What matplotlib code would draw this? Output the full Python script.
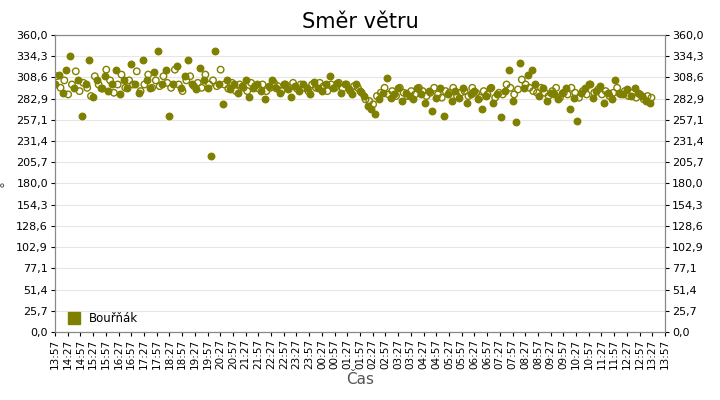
import matplotlib.pyplot as plt
from datetime import datetime, timedelta

# wind direction, readings every 9 minutes from 13:57 to 13:57 next day
filled = [300, 312, 290, 318, 335, 296, 305, 262, 300, 330, 285, 305, 296, 310, 292, 300,
          318, 288, 305, 296, 325, 300, 290, 330, 305, 296, 315, 340, 300, 318, 262, 300,
          322, 296, 310, 330, 300, 295, 320, 305, 296, 213, 340, 300, 276, 305, 295, 300,
          290, 298, 305, 285, 296, 300, 292, 282, 298, 305, 296, 290, 300, 295, 285, 298,
          292, 300, 296, 288, 303, 296, 292, 300, 310, 296, 302, 290, 300, 295, 288, 300,
          292, 286, 274, 270, 264, 282, 290, 308, 284, 288, 296, 280, 290, 286, 282, 296,
          288, 278, 292, 268, 284, 296, 262, 288, 280, 292, 284, 296, 278, 288, 292, 282,
          270, 286, 296, 278, 288, 260, 292, 318, 280, 254, 326, 296, 312, 318, 300, 286,
          296, 280, 290, 288, 282, 290, 296, 270, 284, 256, 290, 296, 300, 284, 292, 298,
          278, 290, 282, 306, 290, 288, 294, 286, 296, 290, 286, 280, 278]
hollow = [310, 296, 305, 288, 300, 316, 292, 302, 296, 286, 310, 300, 295, 318, 305, 290,
          300, 312, 296, 305, 300, 316, 292, 300, 312, 296, 305, 298, 310, 302, 296, 318,
          300, 292, 305, 310, 298, 302, 296, 312, 300, 305, 298, 318, 300, 295, 302, 292,
          300, 296, 292, 302, 298, 295, 300, 292, 296, 302, 298, 292, 300, 296, 302, 295,
          300, 296, 292, 300, 296, 302, 298, 292, 300, 296, 302, 295, 300, 292, 298, 296,
          290, 282, 280, 276, 286, 290, 296, 288, 292, 286, 296, 290, 286, 292, 288, 296,
          292, 286, 290, 296, 288, 284, 292, 290, 296, 286, 290, 292, 286, 296, 290, 284,
          292, 288, 296, 284, 290, 288, 300, 296, 288, 294, 306, 300, 296, 292, 290, 296,
          290, 286, 292, 296, 284, 290, 288, 296, 290, 284, 292, 288, 300, 290, 294, 288,
          292, 286, 290, 296, 288, 292, 286, 290, 284, 288, 282, 286, 284]

start = datetime(2024, 1, 1, 13, 57)
t_f = [start + timedelta(minutes=9 * i) for i in range(len(filled))]
t_h = [start + timedelta(minutes=9 * i + 4) for i in range(len(hollow))]
tick_times = [start + timedelta(minutes=30 * i) for i in range(49)]
tick_labels = [t.strftime('%H:%M') for t in tick_times]
yticks = [360 / 14 * i for i in range(15)]
ylabels = [('%.1f' % v).replace('.', ',') for v in yticks]

col = '#808000'
fig = plt.figure(figsize=(7.2, 4.0), dpi=100)
ax = fig.add_axes([55 / 720, 68 / 400, 610 / 720, 297 / 400])
ax.scatter(t_h, hollow, s=22, facecolors='none', edgecolors=col, linewidths=1, zorder=3)
ax.scatter(t_f, filled, s=22, color=col, zorder=3)
ax.plot([], [], 's', color=col, markersize=9, label='Bouřňák')

ax.set_ylim(0, 360)
ax.set_xlim(tick_times[0], tick_times[-1])
ax.set_yticks(yticks)
ax.set_yticklabels(ylabels, fontsize=8)
ax.set_xticks(tick_times)
ax.set_xticklabels(tick_labels, rotation=90, fontsize=7.5)
ax.grid(axis='y', color='#e6e6e6', linewidth=0.8)
ax.set_axisbelow(True)
ax.tick_params(length=3, pad=2)
ax2 = ax.twinx()
ax2.set_ylim(0, 360)
ax2.set_yticks(yticks)
ax2.set_yticklabels(ylabels, fontsize=8)
ax2.tick_params(length=3, pad=2)
for a in (ax, ax2):
    for s in a.spines.values():
        s.set_color('#888888')
ax.set_ylabel('°', fontsize=10, color='#555555', labelpad=2)
ax.set_xlabel('Čas', fontsize=11, color='#555555', labelpad=2)
ax.set_title('Směr větru', fontsize=15, pad=5)
ax.legend(loc='lower left', frameon=False, fontsize=8.5, handletextpad=0.3, borderaxespad=0.2)
fig.savefig('out.png')
